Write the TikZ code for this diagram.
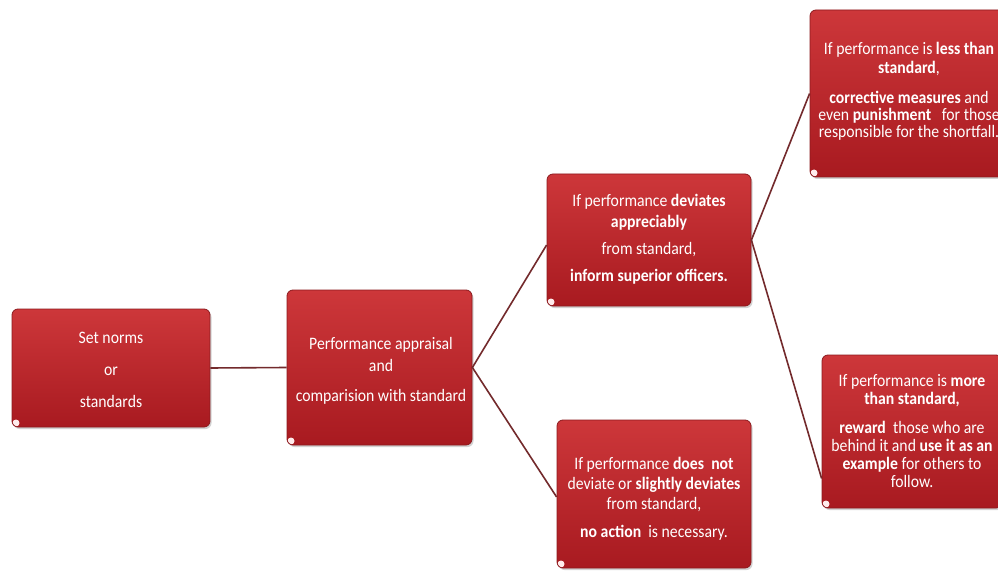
\documentclass[tikz,border=0pt]{standalone}
\usepackage{fontspec}
\setmainfont{Carlito}[FakeStretch=0.9]
\usetikzlibrary{shadows}
\definecolor{boxtop}{RGB}{205,55,58}
\definecolor{boxbot}{RGB}{168,26,32}
\definecolor{boxedge}{RGB}{140,26,30}
\definecolor{linkc}{RGB}{115,42,44}
\tikzset{
  redbox/.style={draw=boxedge, line width=0.8pt, rounded corners=6pt,
    top color=boxtop, bottom color=boxbot,
    drop shadow={shadow xshift=1.5pt, shadow yshift=-2pt, opacity=0.35},
    path picture={\fill[white!70!pink] ([shift={(4pt,4pt)}]path picture bounding box.south west) circle (3.5pt);}},
  boxtext/.style={text=white, align=center, font=\fontsize{17.5}{18}\selectfont},
  link/.style={draw=linkc, line width=1.6pt}
}
\begin{document}
\begin{tikzpicture}[x=1pt,y=-1pt]
\clip (0,0) rectangle (998,577);
\fill[white] (0,0) rectangle (998,577);
% boxes
\node[redbox, minimum width=198pt, minimum height=118pt] (b1) at (111,368) {};
\node[redbox, minimum width=185pt, minimum height=155pt] (b2) at (379.5,367.5) {};
\node[redbox, minimum width=204pt, minimum height=132pt] (b3) at (649,240) {};
\node[redbox, minimum width=194pt, minimum height=148pt] (b4) at (654,494) {};
\node[redbox, minimum width=198pt, minimum height=167pt] (b5) at (909,93.5) {};
\node[redbox, minimum width=180pt, minimum height=153pt] (b6) at (912,431.5) {};
% texts
\node[boxtext] (t1) at (111,370) {Set norms\\[14pt] or\\[14pt] standards};
\node[boxtext] (t2) at (381,371) {Performance appraisal\\[4pt] and\\[12pt] comparision with standard};
\node[boxtext] (t3) at (649,239.5) {If performance \textbf{deviates}\\[3pt] \textbf{appreciably}\\[9pt] from standard,\\[9pt] \textbf{inform superior officers.}};
\node[boxtext] (t4) at (654,499) {If performance \textbf{does~ not}\\[2pt] deviate or \textbf{slightly deviates}\\[2pt] from standard,\\[10pt] \textbf{no action}~ is necessary.};
\node[boxtext] (t5) at (909,91) {If performance is \textbf{less than}\\[1pt] \textbf{standard},\\[12pt] \textbf{corrective measures} and\\[-1pt] even \textbf{punishment}~~ for those\\[-1pt] responsible for the shortfall.};
\node[boxtext] (t6) at (912,431) {If performance is \textbf{more}\\ \textbf{than standard,}\\[11pt] \textbf{reward}~ those who are\\ behind it and \textbf{use it as an}\\ \textbf{example} for others to\\ follow.};
% connectors
\coordinate (e3) at ([yshift=-5pt]b3.west);
\coordinate (e4) at ([yshift=-3pt]b4.west);
\coordinate (e6) at ([yshift=-47pt]b6.west);
\draw[link] (b1.east) -- (b2.west);
\draw[link] (e3) -- (b2.east) -- (e4);
\draw[link] (b5.west) -- (b3.east) -- (e6);
\end{tikzpicture}
\end{document}
